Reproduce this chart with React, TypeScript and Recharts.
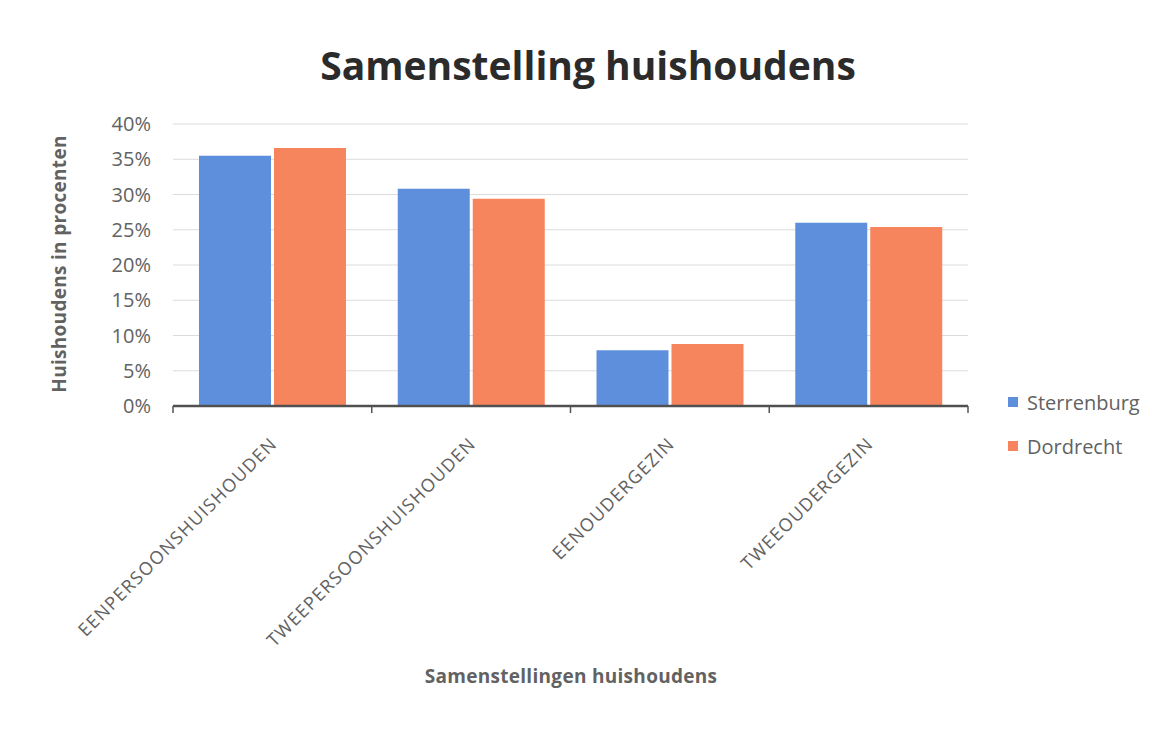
import { Bar, BarChart, CartesianGrid, Legend, XAxis, YAxis } from "recharts";

const categories = ["EENPERSOONSHUISHOUDEN", "TWEEPERSOONSHUISHOUDEN", "EENOUDERGEZIN", "TWEEOUDERGEZIN"];
const sterrenburg = [35.5, 30.8, 7.9, 26.0];
const dordrecht = [36.6, 29.4, 8.8, 25.4];
const yTicks = [0, 5, 10, 15, 20, 25, 30, 35, 40];

const series = [
  { key: "sterrenburg", name: "Sterrenburg", color: "#5e8fdc" },
  { key: "dordrecht", name: "Dordrecht", color: "#f6845c" },
];

const data = categories.map((c, i) => ({ name: c, sterrenburg: sterrenburg[i], dordrecht: dordrecht[i] }));

const font = "'Open Sans', sans-serif";
const grey = "#626262";

// category label rotated like Excel, plus the small tick marks on the band edges
function RotatedTick({ x, y, payload, index, width, visibleTicksCount }: any) {
  const bw = width / visibleTicksCount;
  const last = index === visibleTicksCount - 1;
  return (
    <g>
      <line x1={x - bw / 2} x2={x - bw / 2} y1={y} y2={y + 7} stroke="#555" strokeWidth={1.5} />
      {last && <line x1={x + bw / 2} x2={x + bw / 2} y1={y} y2={y + 7} stroke="#555" strokeWidth={1.5} />}
      <text transform={`translate(${x + 6},${y + 39}) rotate(-45)`} textAnchor="end" fill={grey} fontSize={18} fontFamily={font} letterSpacing={1.3}>
        {payload.value}
      </text>
    </g>
  );
}

function LegendList() {
  return (
    <div style={{ fontFamily: font, fontSize: 20, color: grey }}>
      {series.map((s) => (
        <div key={s.key} style={{ display: "flex", alignItems: "center", height: 44 }}>
          <span style={{ width: 10, height: 10, background: s.color, marginRight: 9, display: "inline-block" }} />
          {s.name}
        </div>
      ))}
    </div>
  );
}

export default function App() {
  return (
    <div style={{ position: "absolute", left: 0, top: 0, width: 1157, height: 746, background: "#fff" }}>
      <div style={{ position: "absolute", left: 588, top: 64, transform: "translate(-50%, -50%)", whiteSpace: "nowrap", fontFamily: font, fontWeight: 700, fontSize: 39, color: "#2b2b2b" }}>
        Samenstelling huishoudens
      </div>
      <div style={{ position: "absolute", left: 59, top: 264, transform: "translate(-50%, -50%) rotate(-90deg)", whiteSpace: "nowrap", fontFamily: font, fontWeight: 700, fontSize: 19, letterSpacing: 0.3, color: grey }}>
        Huishoudens in procenten
      </div>
      <div style={{ position: "absolute", left: 571, top: 676, transform: "translate(-50%, -50%)", whiteSpace: "nowrap", fontFamily: font, fontWeight: 700, fontSize: 19, letterSpacing: 0.3, color: grey }}>
        Samenstellingen huishoudens
      </div>
      <BarChart width={1157} height={746} data={data} margin={{ top: 124, right: 189, bottom: 40, left: 93 }} barCategoryGap={26} barGap={3}>
        <CartesianGrid stroke="#dcdcdc" vertical={false} />
        <XAxis dataKey="name" height={300} interval={0} tick={<RotatedTick />} tickLine={false} tickSize={0} tickMargin={0} axisLine={{ stroke: "#505050", strokeWidth: 2.5 }} />
        <YAxis width={80} domain={[0, 40]} ticks={yTicks} tickFormatter={(v) => `${v}%`} axisLine={false} tickLine={false} tickSize={0} tickMargin={22} tick={{ fill: grey, fontSize: 20, fontFamily: font }} />
        <Legend layout="horizontal" verticalAlign="middle" align="center" content={<LegendList />} wrapperStyle={{ left: 1008, top: 380, width: 150 }} />
        {series.map((s) => (
          <Bar key={s.key} dataKey={s.key} name={s.name} fill={s.color} isAnimationActive={false} />
        ))}
      </BarChart>
    </div>
  );
}
